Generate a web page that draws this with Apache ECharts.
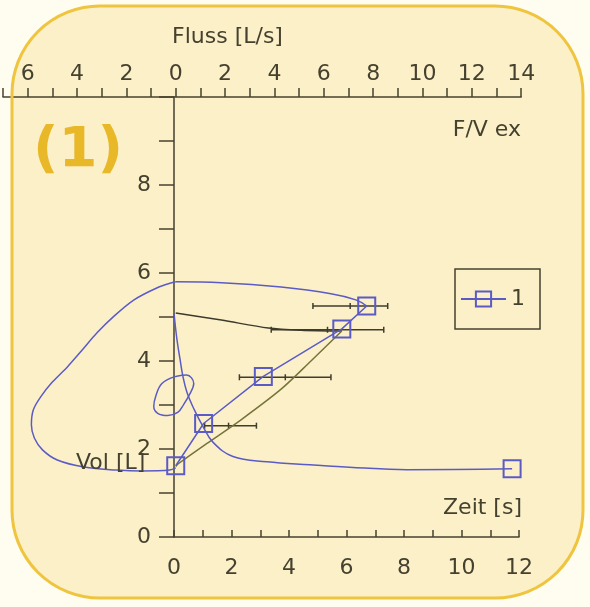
<!DOCTYPE html>
<html>
<head>
<meta charset="utf-8">
<script src="https://cdn.jsdelivr.net/npm/echarts@6/dist/echarts.min.js"></script>
<style>
  html, body { margin: 0; padding: 0; background: #fffcf0; }
  #chart { width: 590px; height: 607px; }
</style>
</head>
<body>
<div id="chart"></div>
<script>
// ---- Flow-volume loop: x = flow [L/s], y = volume [L] ----
// expiration from full inspiration up to peak flow
const fvExpirationTop = [[0, 5.80], [1.85, 5.78], [4.27, 5.68], [6.29, 5.53], [7.30, 5.39], [7.74, 5.25]];
// marked points of the expiration (PEF, MEF75, MEF50, MEF25, end)
const fvMarked = [[7.74, 5.25], [6.73, 4.73], [3.55, 3.65], [1.13, 2.58], [0, 1.62]];
// forced inspiration (negative flow)
const fvInspiration = [[0, 1.57], [-0.24, 1.52], [-1.37, 1.50], [-2.38, 1.52], [-3.71, 1.59], [-4.80, 1.75],
  [-5.40, 1.98], [-5.73, 2.25], [-5.85, 2.55], [-5.77, 2.89], [-5.48, 3.18], [-5.00, 3.52], [-4.40, 3.86],
  [-3.79, 4.25], [-3.19, 4.64], [-2.50, 5.02], [-1.69, 5.39], [-0.77, 5.66], [-0.16, 5.78], [0, 5.80]];
// tidal breathing loop
const tidalLoop = [[0, 3.65], [-0.56, 3.49], [-0.81, 3.20], [-0.89, 2.97], [-0.73, 2.81], [-0.32, 2.76],
  [0.08, 2.83], [0.32, 3.01], [0.56, 3.24], [0.73, 3.49], [0.44, 3.68], [0, 3.65]];
// predicted expiration curve
const predictedUpper = [[0, 5.09], [1.85, 4.93], [3.75, 4.75], [5.08, 4.70], [6.73, 4.68]];
const predictedLower = [[6.73, 4.68], [5.48, 4.00], [4.27, 3.36], [2.66, 2.67], [1.25, 2.12], [0.12, 1.67], [0, 1.60]];
// reference ranges of flow at given volumes
const refVolume = [5.25, 4.71, 3.63, 2.53];
const refFlowLow = [5.56, 3.87, 2.58, 1.17];
const refFlowMid = [7.07, 6.15, 4.44, 2.14];
const refFlowHigh = [8.59, 8.43, 6.29, 3.27];

// ---- Volume-time curve: x = time [s], y = volume [L] ----
const vtTime = [0, 0.10, 0.21, 0.31, 0.45, 0.70, 1.01, 1.36, 2.05, 3.23, 4.73, 6.23, 8.10, 11.76];
const vtVolume = [5.09, 4.50, 4.04, 3.65, 3.29, 2.90, 2.51, 2.15, 1.83, 1.71, 1.64, 1.58, 1.53, 1.55];
const vtEnd = [[11.76, 1.55]];

const BLUE = '#5b5bc6';
const INK = '#45412f';
const FONT = 'DejaVu Sans';

const chart = echarts.init(document.getElementById('chart'), null, { renderer: 'canvas' });

const markerStyle = { color: 'rgba(253,241,204,0)', borderColor: BLUE, borderWidth: 2 };
const axisLine = { show: true, onZero: false, lineStyle: { color: INK, width: 1.5 } };
const axisTickStyle = { color: INK, width: 1.5 };

chart.setOption({
  backgroundColor: '#fffcf0',
  animation: false,
  graphic: [
    { type: 'rect', z: -100, silent: true,
      shape: { x: 12, y: 6, width: 571, height: 592, r: 88 },
      style: { fill: '#fcf0c9', stroke: null } },
    { type: 'rect', z: 100, silent: true,
      shape: { x: 12, y: 6, width: 571, height: 592, r: 88 },
      style: { fill: null, stroke: '#efc43e', lineWidth: 3 } },
    { type: 'text', x: 33, y: 151, silent: true,
      style: { text: '(1)', fill: '#e8b828', font: 'bold 56px "DejaVu Sans"', verticalAlign: 'middle' } },
    { type: 'text', x: 172, y: 37, silent: true,
      style: { text: 'Fluss [L/s]', fill: INK, font: '22px "DejaVu Sans"', verticalAlign: 'middle' } },
    { type: 'text', x: 521, y: 130, silent: true,
      style: { text: 'F/V ex', fill: INK, font: '22px "DejaVu Sans"', align: 'right', verticalAlign: 'middle' } },
    { type: 'text', x: 522, y: 508, silent: true,
      style: { text: 'Zeit [s]', fill: INK, font: '22px "DejaVu Sans"', align: 'right', verticalAlign: 'middle' } },
    { type: 'text', x: 76, y: 463, z: 10, silent: true,
      style: { text: 'Vol [L]', fill: INK, font: '22px "DejaVu Sans"', verticalAlign: 'middle' } }
  ],
  legend: {
    data: ['1'],
    left: 455, top: 269,
    borderColor: INK, borderWidth: 1.5,
    padding: [19, 15, 19, 5],
    itemWidth: 45, itemHeight: 19,
    textStyle: { fontSize: 22, color: INK, fontFamily: FONT }
  },
  grid: [
    // volume-time
    { left: 174, top: 97, width: 345, height: 440 },
    // flow-volume
    { left: 0.4, top: 97, width: 520.8, height: 440 }
  ],
  xAxis: [
    {
      gridIndex: 0, type: 'value', position: 'bottom', min: 0, max: 12, interval: 1,
      axisLine: axisLine,
      axisTick: { show: true, inside: true, length: 7, lineStyle: axisTickStyle },
      axisLabel: { interval: 0, margin: 20, fontSize: 22, color: INK, fontFamily: FONT,
        formatter: v => (v % 2 === 0 ? String(v) : '') },
      splitLine: { show: false }
    },
    {
      gridIndex: 1, type: 'value', position: 'top', min: -7, max: 14, interval: 1,
      axisLine: axisLine,
      axisTick: { show: true, inside: false, length: 9, lineStyle: axisTickStyle },
      axisLabel: { interval: 0, margin: 12, fontSize: 22, color: INK, fontFamily: FONT,
        formatter: v => (v % 2 === 0 ? String(Math.abs(v)) : '') },
      splitLine: { show: false }
    }
  ],
  yAxis: [
    {
      gridIndex: 0, type: 'value', position: 'left', min: 0, max: 10, interval: 1,
      axisLine: axisLine,
      axisTick: { show: true, inside: false, length: 15, lineStyle: axisTickStyle },
      axisLabel: { margin: 23, fontSize: 22, color: INK, fontFamily: FONT,
        formatter: v => (v % 2 === 0 && v < 10 ? String(v) : '') },
      splitLine: { show: false }
    },
    { gridIndex: 1, type: 'value', min: 0, max: 10, show: false }
  ],
  series: [
    {
      name: 'refRange', type: 'custom', xAxisIndex: 1, yAxisIndex: 1, z: 3, silent: true,
      data: refVolume.map((v, i) => [v, refFlowLow[i], refFlowMid[i], refFlowHigh[i]]),
      encode: { y: 0, x: [1, 2, 3] },
      renderItem: (params, api) => {
        const vol = api.value(0);
        const a = api.coord([api.value(1), vol]);
        const m = api.coord([api.value(2), vol]);
        const b = api.coord([api.value(3), vol]);
        const s = { stroke: '#3f3d2e', lineWidth: 1.5 };
        const tick = (p) => ({ type: 'line', shape: { x1: p[0], y1: p[1] - 3, x2: p[0], y2: p[1] + 3 }, style: s });
        return {
          type: 'group',
          children: [
            { type: 'line', shape: { x1: a[0], y1: a[1], x2: b[0], y2: b[1] }, style: s },
            tick(a), tick(m), tick(b)
          ]
        };
      }
    },
    {
      name: 'predUpper', type: 'line', xAxisIndex: 1, yAxisIndex: 1, z: 3, smooth: 0.3,
      symbol: 'none', data: predictedUpper, lineStyle: { color: '#3c3a2c', width: 1.5 }, silent: true
    },
    {
      name: 'predLower', type: 'line', xAxisIndex: 1, yAxisIndex: 1, z: 3, smooth: 0.3,
      symbol: 'none', data: predictedLower, lineStyle: { color: '#76743a', width: 1.5 }, silent: true
    },
    {
      name: 'inspiration', type: 'line', xAxisIndex: 1, yAxisIndex: 1, z: 4, smooth: 0.3,
      symbol: 'none', data: fvInspiration, lineStyle: { color: BLUE, width: 1.5 }, silent: true
    },
    {
      name: 'tidal', type: 'line', xAxisIndex: 1, yAxisIndex: 1, z: 4, smooth: 0.4,
      symbol: 'none', data: tidalLoop, lineStyle: { color: BLUE, width: 1.5 }, silent: true
    },
    {
      name: 'expTop', type: 'line', xAxisIndex: 1, yAxisIndex: 1, z: 4, smooth: 0.4,
      symbol: 'none', data: fvExpirationTop, lineStyle: { color: BLUE, width: 1.5 }, silent: true
    },
    {
      name: 'volTime', type: 'line', xAxisIndex: 0, yAxisIndex: 0, z: 4, smooth: 0.4,
      symbol: 'none', data: vtTime.map((t, i) => [t, vtVolume[i]]),
      lineStyle: { color: BLUE, width: 1.5 }, silent: true
    },
    {
      name: 'volTimeEnd', type: 'line', xAxisIndex: 0, yAxisIndex: 0, z: 5,
      data: vtEnd, symbol: 'rect', symbolSize: 17, showSymbol: true,
      color: BLUE, itemStyle: markerStyle, lineStyle: { width: 0 }, silent: true
    },
    {
      name: '1', type: 'line', xAxisIndex: 1, yAxisIndex: 1, z: 5,
      data: fvMarked, symbol: 'rect', symbolSize: 17, showSymbol: true,
      color: BLUE, itemStyle: markerStyle, lineStyle: { color: BLUE, width: 1.5 }, silent: true
    }
  ]
});
</script>
</body>
</html>
